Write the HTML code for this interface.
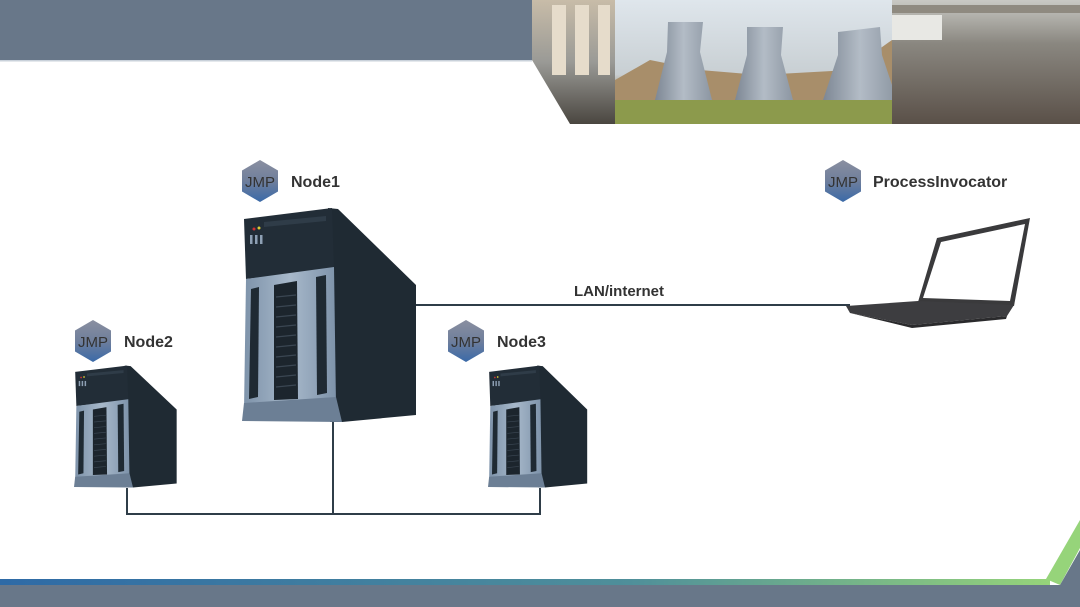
<!DOCTYPE html>
<html><head><meta charset="utf-8"><style>
html,body{margin:0;padding:0;background:#fff;}
svg{display:block;}
text{font-family:"Liberation Sans","DejaVu Sans",sans-serif;}
</style></head><body>
<svg width="1080" height="607" viewBox="0 0 1080 607" xmlns="http://www.w3.org/2000/svg">
<defs>
<linearGradient id="hex" x1="0" y1="0" x2="0" y2="1"><stop offset="0" stop-color="#8a8fa0"/><stop offset="0.5" stop-color="#6f7f9c"/><stop offset="1" stop-color="#3a6aa8"/></linearGradient>
<linearGradient id="stripe" x1="0" y1="0" x2="1" y2="0"><stop offset="0" stop-color="#2e6aa6"/><stop offset="0.6" stop-color="#4f8f9a"/><stop offset="1" stop-color="#96d47a"/></linearGradient>
<linearGradient id="sky" x1="0" y1="0" x2="0" y2="1"><stop offset="0" stop-color="#dfe6ec"/><stop offset="0.6" stop-color="#c8cfd3"/><stop offset="0.75" stop-color="#a08a6c"/><stop offset="1" stop-color="#8a9a50"/></linearGradient>
<linearGradient id="ind" x1="0" y1="0" x2="0" y2="1"><stop offset="0" stop-color="#c8bca8"/><stop offset="0.5" stop-color="#9a9a96"/><stop offset="1" stop-color="#4a4640"/></linearGradient>
<linearGradient id="pipes" x1="0" y1="0" x2="0" y2="1"><stop offset="0" stop-color="#c9c9c4"/><stop offset="0.35" stop-color="#8a8780"/><stop offset="1" stop-color="#5a5048"/></linearGradient>
<linearGradient id="tower" x1="0" y1="0" x2="1" y2="0"><stop offset="0" stop-color="#7d8794"/><stop offset="0.5" stop-color="#b3bcc6"/><stop offset="1" stop-color="#8c96a2"/></linearGradient>
<linearGradient id="front" x1="0" y1="0" x2="1" y2="0"><stop offset="0" stop-color="#7e93aa"/><stop offset="0.5" stop-color="#a7b8ca"/><stop offset="1" stop-color="#7e93aa"/></linearGradient>
<g id="srv">
  <polygon points="86,1 96,2 174,78 174,208 100,215 88,215" fill="#1f2a33"/>
  <polygon points="2,12 90,1 92,62 4,72" fill="#222d37"/>
  <polygon points="22,15 84,9 84,14 22,20" fill="#2f3c48"/>
  <circle cx="12" cy="22" r="1.5" fill="#c33"/><circle cx="17" cy="21" r="1.5" fill="#dc3"/>
  <rect x="8" y="28" width="2.5" height="9" fill="#8ea0b4"/><rect x="13" y="28" width="2.5" height="9" fill="#8ea0b4"/><rect x="18" y="28" width="2.5" height="9" fill="#8ea0b4"/>
  <polygon points="4,72 92,60 94,198 2,203" fill="url(#front)"/>
  <polygon points="32,78 55,74 56,192 32,193" fill="#1c252d"/>
  <g stroke="#3a4652" stroke-width="1.2">
  <line x1="34" y1="90" x2="54" y2="88"/><line x1="34" y1="100" x2="54" y2="98"/><line x1="34" y1="110" x2="54" y2="108"/><line x1="34" y1="120" x2="54" y2="118"/><line x1="34" y1="130" x2="54" y2="128"/><line x1="34" y1="140" x2="54" y2="138"/><line x1="34" y1="150" x2="54" y2="148"/><line x1="34" y1="160" x2="54" y2="158"/><line x1="34" y1="170" x2="54" y2="168"/><line x1="34" y1="180" x2="54" y2="178"/></g>
  <polygon points="9,82 17,80 16,190 7,192" fill="#1f2a33"/>
  <polygon points="74,70 84,68 85,186 75,188" fill="#1f2a33"/>
  <polygon points="2,196 94,190 100,215 0,214" fill="#6c7f95"/>
</g>
<g id="jmp">
  <polygon points="0,-21 18,-10.5 18,10.5 0,21 -18,10.5 -18,-10.5" fill="url(#hex)"/>
  <text x="0" y="6" font-size="15" fill="#333" text-anchor="middle">JMP</text>
</g>
</defs>
<!-- top band -->
<rect x="0" y="0" width="540" height="60" fill="#687789"/>
<rect x="0" y="60" width="532" height="1.5" fill="#c9d1da"/>
<!-- photos -->
<g>
<polygon points="532,0 615,0 615,124 570,124 532,60" fill="url(#ind)"/>
<g fill="#e6dccb"><rect x="552" y="5" width="14" height="70"/><rect x="575" y="5" width="14" height="70"/><rect x="598" y="5" width="12" height="70"/></g>
<rect x="615" y="0" width="277" height="124" fill="url(#sky)"/>
<polygon points="615,80 650,60 700,70 760,75 850,70 892,40 892,105 615,105" fill="#a88e6a"/>
<polygon points="668,22 703,22 700,52 712,100 655,100 667,52" fill="url(#tower)"/>
<polygon points="747,27 783,27 781,55 793,100 735,100 747,55" fill="url(#tower)"/>
<polygon points="838,32 880,27 882,55 897,100 823,100 838,55" fill="url(#tower)"/>
<rect x="615" y="100" width="277" height="24" fill="#8c9a4c"/>
<rect x="892" y="0" width="188" height="124" fill="url(#pipes)"/>
<rect x="892" y="5" width="188" height="8" fill="#8f8a80"/>
<rect x="892" y="15" width="50" height="25" fill="#e8e8e4"/>
</g>
<!-- connectors -->
<g stroke="#2f3d48" stroke-width="2" fill="none">
<line x1="414" y1="305" x2="850" y2="305"/>
<line x1="333" y1="420" x2="333" y2="514"/>
<polyline points="127,488 127,514 540,514 540,488"/>
</g>
<text x="574" y="296" font-size="15" font-weight="bold" fill="#333">LAN/internet</text>
<!-- servers -->
<use href="#srv" transform="translate(242,207)"/>
<use href="#srv" transform="translate(74,365) scale(0.59,0.57)"/>
<use href="#srv" transform="translate(488,365) scale(0.57,0.57)"/>
<!-- laptop -->
<polygon points="937,238 1030,218 1014,306 918,302" fill="#3a3a3c"/>
<polygon points="941,242 1025,224 1010,301 923,298" fill="#fff"/>
<polygon points="846,306 918,301 1014,305 1007,316 912,325 850,313" fill="#3d3d40"/>
<polygon points="850,313 912,325 1007,316 1006,319 912,328" fill="#2a2a2c"/>
<!-- jmp icons and labels -->
<use href="#jmp" transform="translate(260,181)"/>
<use href="#jmp" transform="translate(93,341)"/>
<use href="#jmp" transform="translate(466,341)"/>
<use href="#jmp" transform="translate(843,181)"/>
<g font-size="16" font-weight="bold" fill="#333">
<text x="291" y="187">Node1</text>
<text x="124" y="347">Node2</text>
<text x="497" y="347">Node3</text>
<text x="873" y="187">ProcessInvocator</text>
</g>
<!-- bottom -->
<polygon points="1046,579 1080,520 1080,548 1060,585" fill="#96d47a"/>
<rect x="0" y="579" width="1050" height="6" fill="url(#stripe)"/>
<polygon points="0,585 1060,585 1080,550 1080,607 0,607" fill="#687789"/>
</svg>
</body></html>
